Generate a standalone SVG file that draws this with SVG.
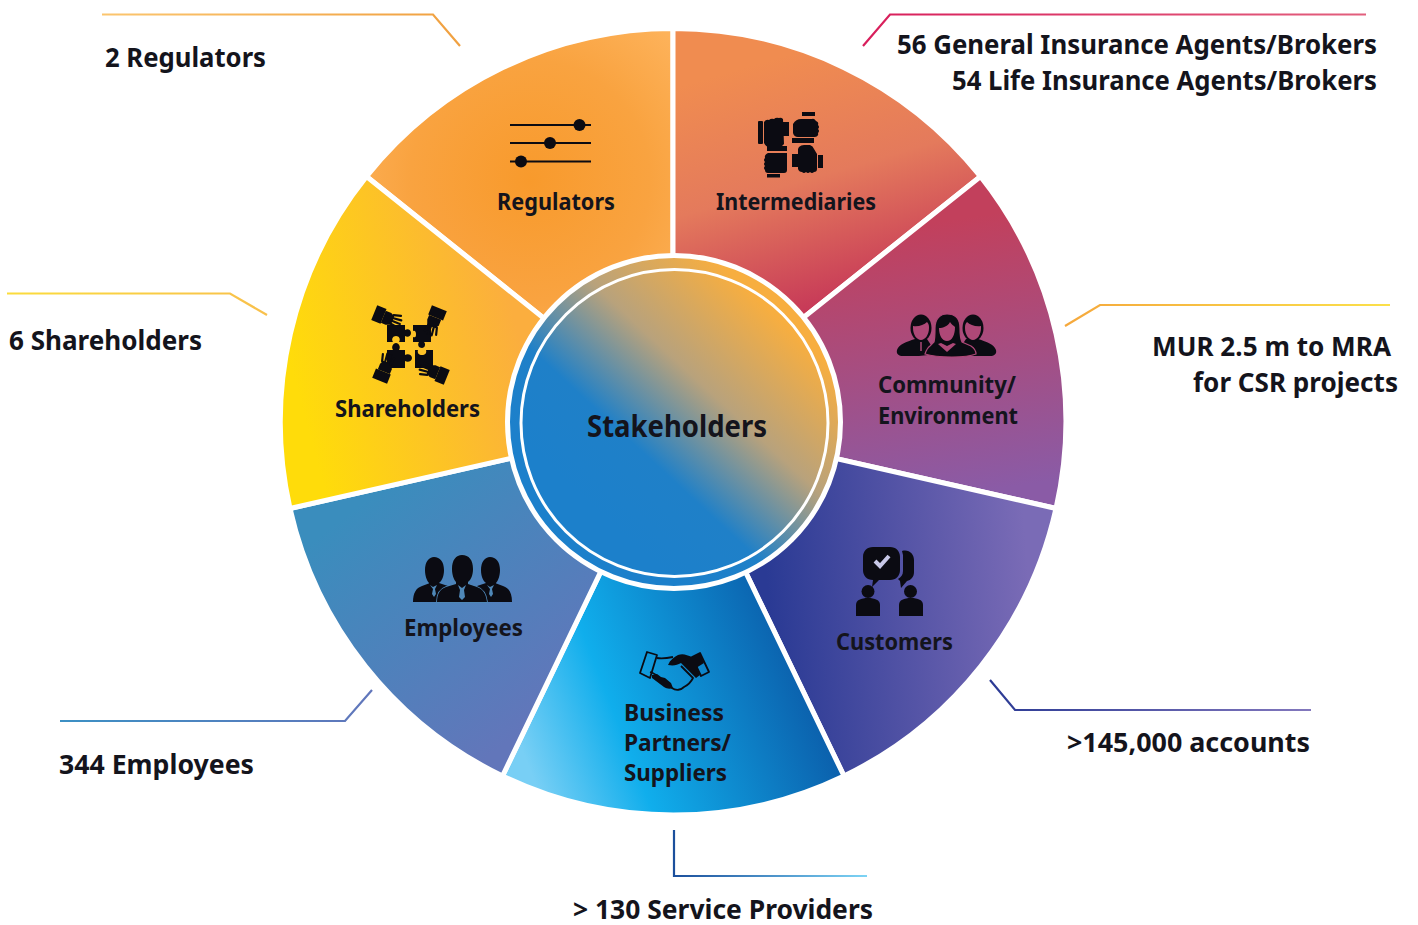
<svg xmlns="http://www.w3.org/2000/svg" width="1418" height="925" viewBox="0 0 1418 925">
<style>
text{font-family:"Noto Sans","Liberation Sans",sans-serif;font-weight:700;fill:#14141c}
.o{font-size:27px}
.l{font-size:24px}
.wedge{stroke:#fff;stroke-width:5;stroke-linejoin:miter}
.cn{fill:none;stroke-width:2.2}
.i{fill:#0b0b12}
.ln{stroke:#0b0b12;stroke-width:2;fill:none}
</style>
<defs>
<radialGradient id="gReg" gradientUnits="userSpaceOnUse" cx="530" cy="180" r="200"><stop offset="0" stop-color="#f89a2c"/><stop offset=".6" stop-color="#f9a340"/><stop offset="1" stop-color="#fdb25a"/></radialGradient>
<linearGradient id="gInt" gradientUnits="userSpaceOnUse" x1="770" y1="60" x2="840" y2="300"><stop offset="0" stop-color="#f08c50"/><stop offset=".5" stop-color="#e47a5c"/><stop offset="1" stop-color="#c73a58"/></linearGradient>
<linearGradient id="gCom" gradientUnits="userSpaceOnUse" x1="950" y1="220" x2="990" y2="490"><stop offset="0" stop-color="#c2405c"/><stop offset="1" stop-color="#8a5ba6"/></linearGradient>
<linearGradient id="gCus" gradientUnits="userSpaceOnUse" x1="770" y1="620" x2="1030" y2="600"><stop offset="0" stop-color="#2a3a94"/><stop offset="1" stop-color="#7a6bb6"/></linearGradient>
<linearGradient id="gBus" gradientUnits="userSpaceOnUse" x1="530" y1="770" x2="810" y2="660"><stop offset="0" stop-color="#78cff5"/><stop offset=".33" stop-color="#10aeec"/><stop offset="1" stop-color="#0b5ba8"/></linearGradient>
<linearGradient id="gEmp" gradientUnits="userSpaceOnUse" x1="340" y1="520" x2="510" y2="740"><stop offset="0" stop-color="#3a8dbd"/><stop offset="1" stop-color="#6276ba"/></linearGradient>
<linearGradient id="gSha" gradientUnits="userSpaceOnUse" x1="300" y1="400" x2="520" y2="340"><stop offset="0" stop-color="#ffdc0a"/><stop offset="1" stop-color="#fbae3e"/></linearGradient>
<linearGradient id="gCen" gradientUnits="userSpaceOnUse" x1="590" y1="505" x2="770" y2="310"><stop offset="0" stop-color="#1c80cb"/><stop offset=".28" stop-color="#1f80c8"/><stop offset=".62" stop-color="#b8a27c"/><stop offset="1" stop-color="#f7ae40"/></linearGradient>
<linearGradient id="c1" gradientUnits="userSpaceOnUse" x1="102" y1="14" x2="460" y2="14"><stop offset="0" stop-color="#fbc56e"/><stop offset="1" stop-color="#f0a040"/></linearGradient>
<linearGradient id="c2" gradientUnits="userSpaceOnUse" x1="863" y1="14" x2="1366" y2="14"><stop offset="0" stop-color="#d81e5b"/><stop offset="1" stop-color="#e25f7d"/></linearGradient>
<linearGradient id="c3" gradientUnits="userSpaceOnUse" x1="1065" y1="14" x2="1390" y2="14"><stop offset="0" stop-color="#f5a83c"/><stop offset="1" stop-color="#fbe04a"/></linearGradient>
<linearGradient id="c4" gradientUnits="userSpaceOnUse" x1="990" y1="14" x2="1311" y2="14"><stop offset="0" stop-color="#2b3a94"/><stop offset="1" stop-color="#8378bd"/></linearGradient>
<linearGradient id="c5" gradientUnits="userSpaceOnUse" x1="674" y1="14" x2="867" y2="14"><stop offset="0" stop-color="#1b4f9c"/><stop offset="1" stop-color="#7dd4f5"/></linearGradient>
<linearGradient id="c6" gradientUnits="userSpaceOnUse" x1="60" y1="14" x2="372" y2="14"><stop offset="0" stop-color="#3c90c4"/><stop offset="1" stop-color="#6176bb"/></linearGradient>
<linearGradient id="c7" gradientUnits="userSpaceOnUse" x1="7" y1="14" x2="267" y2="14"><stop offset="0" stop-color="#fbdc3c"/><stop offset="1" stop-color="#f8c04c"/></linearGradient>
<g id="hand"><rect x="-17" y="-8" width="10" height="16" fill="#0b0b12"/><path d="M-7,-6H-1L3,-4V5L-2,7H-7Z" fill="#0b0b12"/><path d="M2,-5L9,-7M3,-2L11,-3M3,1L11,1M2,4L9,5" stroke="#0b0b12" stroke-width="2.200" stroke-linecap="round" fill="none"/></g>
</defs>
<rect width="1418" height="925" fill="#fff"/>

<g id="connectors">
<polyline class="cn" stroke="url(#c1)" points="102,14.500 433,14.500 460,46"/>
<polyline class="cn" stroke="url(#c2)" points="863,46 890,14.500 1366,14.500"/>
<polyline class="cn" stroke="url(#c3)" points="1065,326 1100,305 1390,305"/>
<polyline class="cn" stroke="url(#c4)" points="990,680 1015,710 1311,710"/>
<polyline class="cn" stroke="url(#c5)" points="674,830 674,876 867,876"/>
<polyline class="cn" stroke="url(#c6)" points="372,690 345,721 60,721"/>
<polyline class="cn" stroke="url(#c7)" points="267,315 230,293.500 7,293.500"/>
</g>

<g id="node-regulators">
<path class="wedge" fill="url(#gReg)" d="M673,421.500L366.500,176.500A393,393 0 0 1 673,28.500Z"/>
<g class="ln"><path d="M510,125H591M510,143H591M510,161.500H591"/></g>
<circle class="i" cx="579.500" cy="125" r="6"/><circle class="i" cx="550" cy="143" r="6"/><circle class="i" cx="521" cy="161.500" r="6"/>
<text class="l" x="497" y="210" textLength="118" lengthAdjust="spacingAndGlyphs">Regulators</text>
<text class="o" x="105" y="67" textLength="161" lengthAdjust="spacingAndGlyphs">2 Regulators</text>
</g>

<g id="node-intermediaries">
<path class="wedge" fill="url(#gInt)" d="M673,421.500V28.500A393,393 0 0 1 980.500,176.500Z"/>
<g class="i">
<rect x="758" y="121" width="5" height="23" rx="1"/><path d="M764,122q2,-3 5,-2q2,-2 5,-1q2,-2 5,-1q2,-1 4,1L784,144q-2,3 -5,3h-10q-3,0 -5,-4z"/><rect x="783" y="122" width="6" height="14"/>
<rect x="802" y="112" width="13" height="4"/><path d="M793,124q3,-5 8,-5h11q2,-1 4,2q3,1 2,4q2,2 0,4q2,2 0,4q1,3 -3,4h-17q-4,0 -5,-4z"/><rect x="792" y="138" width="22" height="5"/>
<rect x="818" y="155" width="5" height="13"/><path d="M799,147q2,-2 5,-2h6q3,1 4,4l3,5v15q0,3 -3,3q-2,2 -4,0q-2,2 -4,0q-2,2 -4,0q-3,0 -4,-3l0,-20z"/><rect x="792" y="154" width="6" height="13"/>
<rect x="767" y="146" width="20" height="5"/><path d="M768,153h19v17q0,3 -3,3h-16q-3,0 -3,-3q-2,-2 0,-4q-2,-2 0,-4q-2,-2 0,-4q-1,-3 3,-5z"/><rect x="767" y="174" width="13" height="3.500"/>
</g>
<text class="l" x="716" y="210" textLength="160" lengthAdjust="spacingAndGlyphs">Intermediaries</text>
<text class="o" x="897" y="54" textLength="480" lengthAdjust="spacingAndGlyphs">56 General Insurance Agents/Brokers</text>
<text class="o" x="952" y="90" textLength="425" lengthAdjust="spacingAndGlyphs">54 Life Insurance Agents/Brokers</text>
</g>

<g id="node-community">
<path class="wedge" fill="url(#gCom)" d="M673,421.500L980.500,176.500A393,393 0 0 1 1056,508.500Z"/>
<g class="i">
<path d="M897,350c2,-6 9,-8 18,-11l12,0 10,15-18,2h-16c-4,0 -7,-2 -6,-6z"/>
<path d="M996,350c-2,-6 -9,-8 -18,-11l-12,0-10,15 18,2h16c4,0 7,-2 6,-6z"/>
<ellipse cx="921" cy="328" rx="10.500" ry="13.500"/><ellipse cx="973" cy="328" rx="10.500" ry="13.500"/>
</g>
<g fill="#ae4877">
<path d="M913,326c5,1 11,-1 14,-4 2,2 2,4 2,6 0,7 -4,12 -8,12 -4,0 -8,-5 -8,-12z"/>
<path d="M981,326c-5,1 -11,-1 -14,-4-2,2-2,4-2,6 0,7 4,12 8,12 4,0 8,-5 8,-12z"/>
</g>
<path class="i" d="M934,342c1,-4 1,-9 1,-14 0,-9 5,-14 12,-14 8,0 13,5 13,14 0,5 0,10 2,14l9,4c3,2 5,5 5,8-5,2-14,3-24,3-11,0-21,-1-27,-3 1,-3 2,-6 5,-8z" stroke="#ae4877" stroke-width="1.200"/>
<path fill="#ae4877" d="M939,328c4,0 9,-2 11,-6 1,2 4,4 5,5 0,8 -3,14 -8,14 -5,0 -8,-6 -8,-13zM938,344l9,8 9,-8 -3,-1-6,3-6,-3z"/>
<path d="M921,342v9" stroke="#ae4877" stroke-width="1.500"/>
<text class="l" x="878" y="393" textLength="138" lengthAdjust="spacingAndGlyphs">Community/</text>
<text class="l" x="878" y="424" textLength="140" lengthAdjust="spacingAndGlyphs">Environment</text>
<text class="o" x="1152" y="356" textLength="239" lengthAdjust="spacingAndGlyphs">MUR 2.5 m to MRA</text>
<text class="o" x="1193" y="392" textLength="205" lengthAdjust="spacingAndGlyphs">for CSR projects</text>
</g>

<g id="node-customers">
<path class="wedge" fill="url(#gCus)" d="M673,421.500L1056,508.500A393,393 0 0 1 844,776Z"/>
<g class="i">
<path d="M902,551c7,-2 12,3 12,9v12c0,5 -3,8 -7,9l-6,7-1,-7-2,-2c3,-2 5,-4 5,-8v-16z"/>
<path d="M873,547h17c6,0 10,4 10,10v13c0,6 -4,10 -10,10h-11l-7,7 1,-7c-6,0 -10,-4 -10,-10v-13c0,-6 4,-10 10,-10z"/>
<circle cx="868" cy="591.500" r="6.500"/><path d="M856,616v-11c0,-5 5,-7 12,-7 7,0 12,2 12,7v11z"/>
<circle cx="910.500" cy="591.500" r="6.500"/><path d="M899,616v-11c0,-5 5,-7 12,-7 7,0 12,2 12,7v11z"/>
</g>
<path d="M875,561l5,5 9,-10" fill="none" stroke="#c8c8e8" stroke-width="4"/>
<text class="l" x="836" y="650" textLength="117" lengthAdjust="spacingAndGlyphs">Customers</text>
<text class="o" x="1067" y="752" textLength="243" lengthAdjust="spacingAndGlyphs">&gt;145,000 accounts</text>
</g>

<g id="node-partners">
<path class="wedge" fill="url(#gBus)" d="M673,421.500L844,776A393,393 0 0 1 502.500,776Z"/>
<g fill="none" stroke="#0b0b12" stroke-width="1.800" stroke-linejoin="round">
<path d="M647,652l10,3-7,23-10,-5z"/>
<path d="M657,658c6,1 11,0 16,-1M650,672c4,1 8,4 12,8l10,8c4,3 9,2 12,-1 4,-2 7,-5 9,-9l-12,-12"/>
<path d="M692,657l8,-4 9,19-8,4z"/>
</g>
<path class="i" d="M668,665c2,-5 6,-8 10,-10 5,-2 9,0 14,2l8,18-4,3-15,-15c-4,2 -7,3 -13,2zM652,675l5,-1 4,3 4,1 6,5 2,5c-3,1 -6,1 -9,-1l-12,-9zM692,657l8,-4 4,10-8,5z"/>
<text class="l" x="624" y="721" textLength="100" lengthAdjust="spacingAndGlyphs">Business</text>
<text class="l" x="624" y="751" textLength="107" lengthAdjust="spacingAndGlyphs">Partners/</text>
<text class="l" x="624" y="781" textLength="103" lengthAdjust="spacingAndGlyphs">Suppliers</text>
<text class="o" x="573" y="919" textLength="300" lengthAdjust="spacingAndGlyphs">&gt; 130 Service Providers</text>
</g>

<g id="node-employees">
<path class="wedge" fill="url(#gEmp)" d="M673,421.500L502.500,776A393,393 0 0 1 290,508.500Z"/>
<g class="i">
<path d="M425,570c0,-8 4,-13 9,-13 6,0 10,5 10,13 0,6 -2,11 -5,13v3h-10v-3c-2,-2 -4,-7 -4,-13z"/>
<path d="M481,570c0,-8 4,-13 9,-13 6,0 10,5 10,13 0,6 -2,11 -4,13v3h-10v-3c-3,-2 -5,-7 -5,-13z"/>
<path d="M413,602c0,-9 3,-14 9,-16l8,-3h9l9,3v16z"/>
<path d="M512,602c0,-9 -3,-14 -9,-16l-8,-3h-9l-9,3v16z"/>
</g>
<path class="i" d="M452,569c0,-9 4,-14 10,-14 7,0 11,5 11,14 0,6 -2,11 -5,13v2l9,3c6,2 9,7 10,15h-50c0,-8 3,-13 9,-15l10,-3v-2c-2,-2 -4,-7 -4,-13z" stroke="#4f88b8" stroke-width="1.800" paint-order="stroke"/>
<path d="M458,585l4,3 4,-3-2,5 1,7-3,3-3,-3 1,-7zM430,585l3,2 4,-2-2,4 1,5-2,3-2,-3 1,-5zM487,585l3,2 4,-2-2,4 1,5-2,3-2,-3 1,-5z" fill="#4f88b8"/>
<text class="l" x="404" y="636" textLength="119" lengthAdjust="spacingAndGlyphs">Employees</text>
<text class="o" x="59" y="774" textLength="195" lengthAdjust="spacingAndGlyphs">344 Employees</text>
</g>

<g id="node-shareholders">
<path class="wedge" fill="url(#gSha)" d="M673,421.500L290,508.500A393,393 0 0 1 366.500,176.500Z"/>
<g class="i">
<path d="M387,325H405V330c3,-2 6,0 6,3 0,3 -3,5 -6,3V342H399c2,-3 0,-6 -3,-6 -3,0 -5,3 -3,6H387Z"/>
<path d="M413,325H431V342H424c2,2 1,6 -2,6 -3,0 -5,-3 -3,-6H413V337c3,1 3,-1 3,-3 0,-2 -1,-4 -3,-3Z"/>
<path d="M387,350H393c-2,-3 0,-7 3,-7 3,0 5,4 3,7H405V355c3,-2 7,0 7,3 0,3 -4,5 -7,3V368H387Z"/>
<path d="M415,350H418c-1,3 1,5 4,5 3,0 5,-2 4,-5H433V368H415Z"/>
</g>
<use href="#hand" transform="translate(390,319) rotate(22)"/>
<use href="#hand" transform="translate(433,324) rotate(112)"/>
<use href="#hand" transform="translate(386,365) rotate(-68)"/>
<use href="#hand" transform="translate(431,371) rotate(202)"/>
<text class="l" x="335" y="417" textLength="145" lengthAdjust="spacingAndGlyphs">Shareholders</text>
<text class="o" x="9" y="350" textLength="193" lengthAdjust="spacingAndGlyphs">6 Shareholders</text>
</g>

<g id="node-stakeholders">
<circle cx="674" cy="422" r="166.500" fill="url(#gCen)" stroke="#fff" stroke-width="5"/>
<circle cx="674.500" cy="423" r="153.500" fill="none" stroke="#fff" stroke-width="3"/>
<text x="587" y="437" font-size="31" textLength="180" lengthAdjust="spacingAndGlyphs">Stakeholders</text>
</g>
</svg>
